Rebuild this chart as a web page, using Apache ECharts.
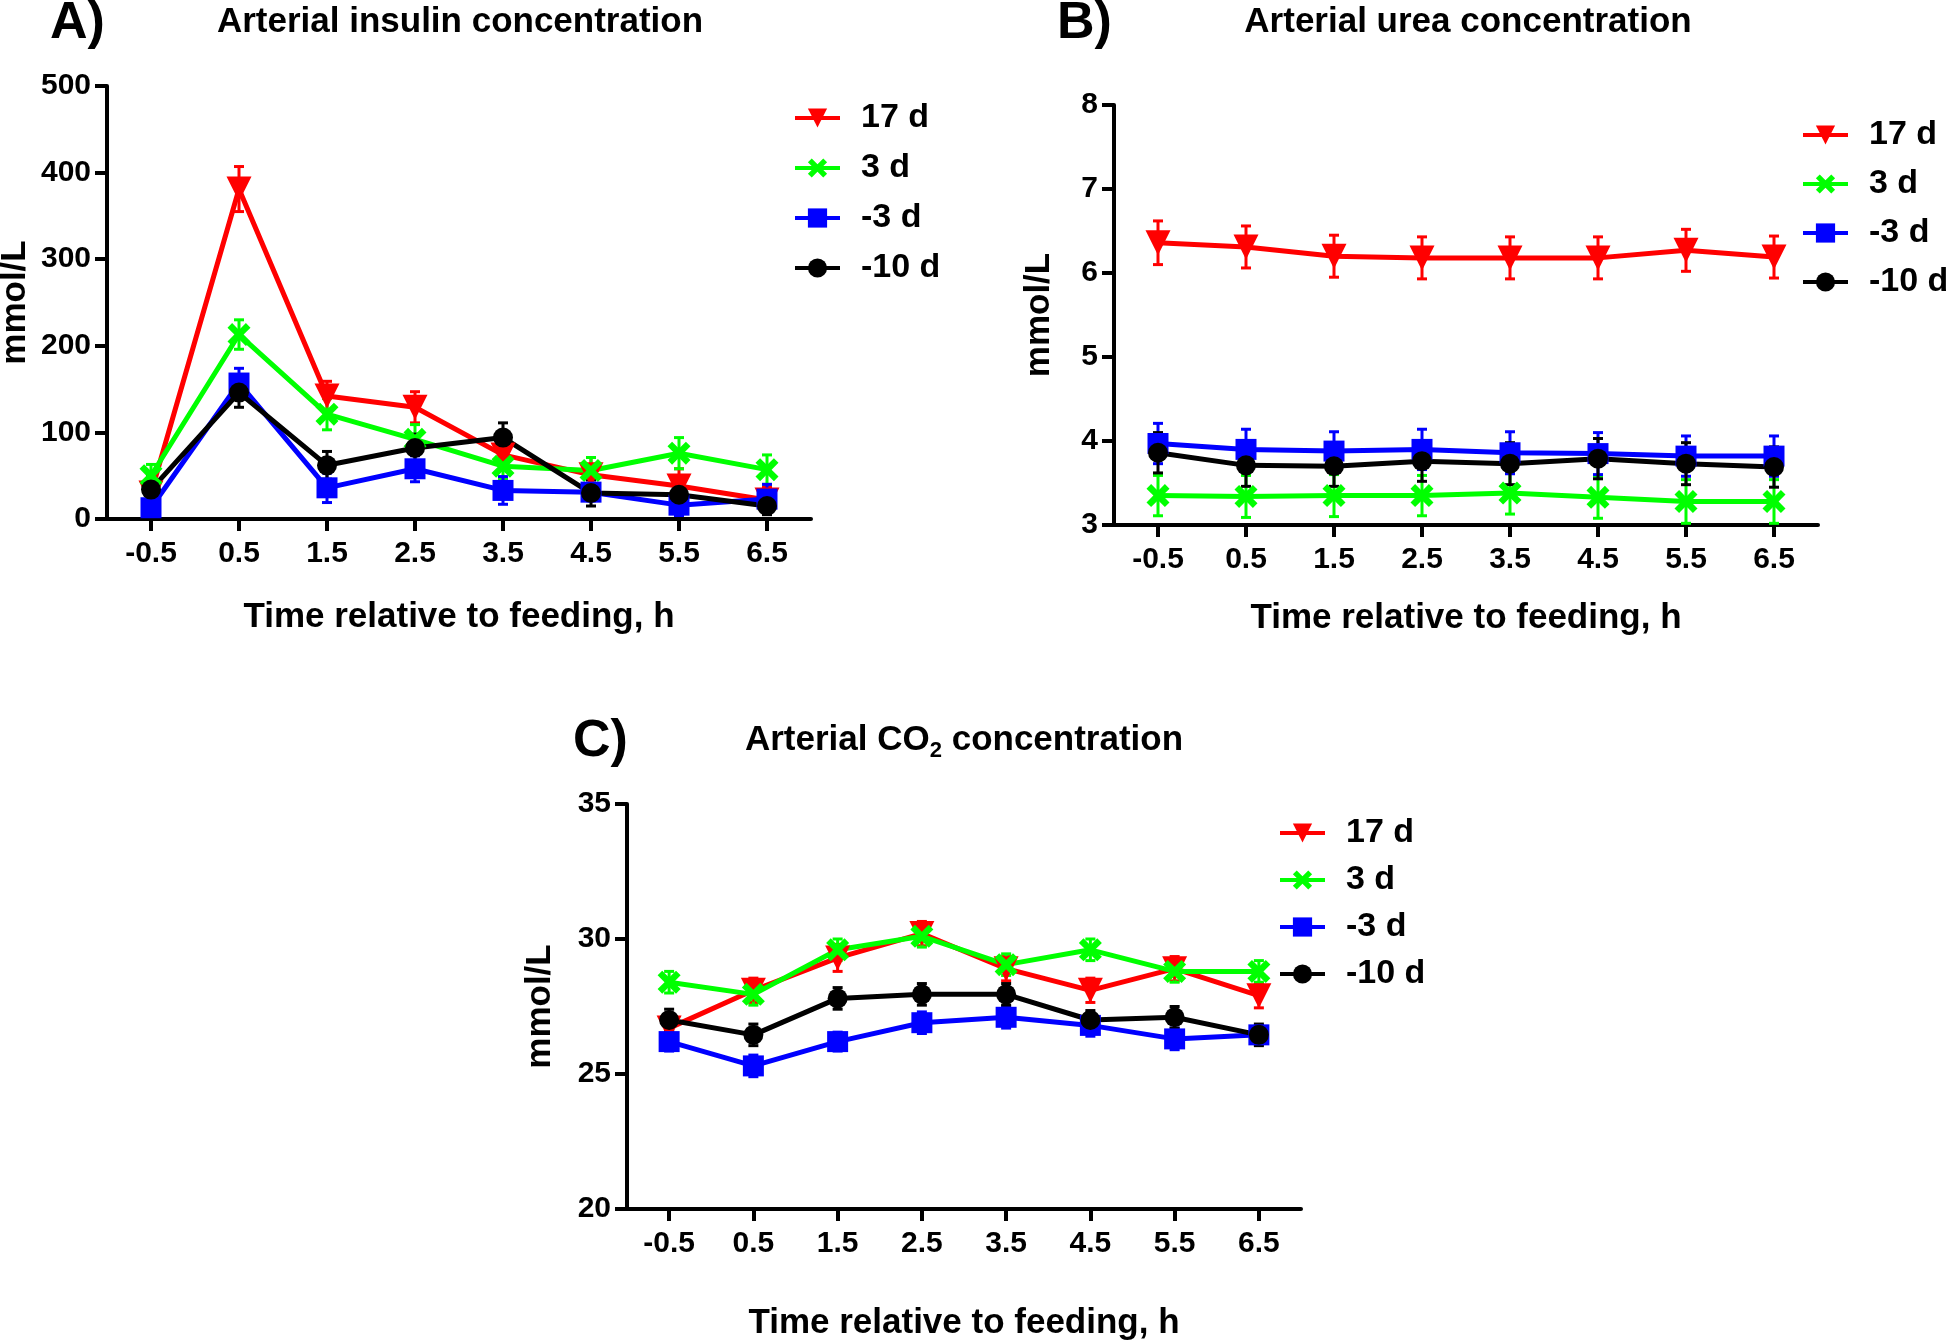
<!DOCTYPE html>
<html>
<head>
<meta charset="utf-8">
<script src="https://cdn.jsdelivr.net/npm/echarts@6/dist/echarts.min.js"></script>
<style>
html, body { margin: 0; padding: 0; background: #fff; }
#main { width: 1946px; height: 1341px; }
</style>
</head>
<body>
<div id="main"></div>
<script>
// time points (h relative to feeding) and groups
var xTicks = [-0.5, 0.5, 1.5, 2.5, 3.5, 4.5, 5.5, 6.5];
var groups = ['17 d', '3 d', '-3 d', '-10 d'];

// rows follow groups: 17 d, 3 d, -3 d, -10 d
var insulinMean = [
    [30, 381, 142, 129, 74, 51, 38, 22],
    [50, 213, 121, 92, 61, 56, 76, 57],
    [13, 157, 36, 58, 33, 31, 16, 23],
    [34, 146, 62, 82, 94, 30, 28, 15]
];
var insulinSem = [
    [10, 26, 17, 18, 16, 20, 20, 15],
    [13, 17, 18, 17, 15, 15, 18, 17],
    [10, 17, 17, 15, 16, 10, 12, 17],
    [15, 17, 16, 16, 17, 15, 16, 10]
];
var ureaMean = [
    [6.36, 6.31, 6.20, 6.18, 6.18, 6.18, 6.27, 6.19],
    [3.35, 3.34, 3.35, 3.35, 3.38, 3.33, 3.28, 3.28],
    [3.97, 3.90, 3.88, 3.90, 3.86, 3.85, 3.82, 3.82],
    [3.86, 3.71, 3.70, 3.76, 3.73, 3.79, 3.73, 3.69]
];
var ureaSem = [
    [0.26, 0.25, 0.25, 0.25, 0.25, 0.25, 0.25, 0.25],
    [0.24, 0.25, 0.25, 0.24, 0.25, 0.25, 0.26, 0.26],
    [0.24, 0.24, 0.23, 0.24, 0.25, 0.25, 0.24, 0.24],
    [0.24, 0.25, 0.24, 0.24, 0.25, 0.24, 0.25, 0.24]
];
var co2Mean = [
    [26.7, 28.1, 29.3, 30.2, 28.9, 28.1, 28.9, 27.9],
    [28.4, 27.95, 29.6, 30.1, 29.05, 29.6, 28.8, 28.8],
    [26.2, 25.3, 26.2, 26.9, 27.1, 26.8, 26.3, 26.45],
    [27.0, 26.45, 27.8, 27.95, 27.95, 27.0, 27.1, 26.45]
];
var co2Sem = [
    [0.4, 0.45, 0.5, 0.45, 0.45, 0.45, 0.45, 0.45],
    [0.4, 0.4, 0.4, 0.4, 0.4, 0.4, 0.4, 0.4],
    [0.35, 0.4, 0.35, 0.4, 0.4, 0.4, 0.4, 0.35],
    [0.4, 0.4, 0.4, 0.4, 0.4, 0.35, 0.4, 0.4]
];

var FONT = '"Liberation Sans", Arial, sans-serif';
var colors = ['#ff0000', '#00ff00', '#0000ff', '#000000'];
var xMark = 'path://M0,4L4,0L10,6L16,0L20,4L14,10L20,16L16,20L10,14L4,20L0,16L6,10Z';
var symbols = ['triangle', xMark, 'rect', 'circle'];
var symbolRot = [180, 0, 0, 0];
var symbolSizes = [25, 23, 21, 20];

var myChart = echarts.init(document.getElementById('main'));

function errorBar(color) {
    return function (params, api) {
        var x = api.value(0), m = api.value(1), e = api.value(2);
        var hi = api.coord([x, m + e]);
        var lo = api.coord([x, m - e]);
        var c = 5;
        var st = { stroke: color, lineWidth: 3 };
        return {
            type: 'group',
            children: [
                { type: 'line', shape: { x1: hi[0], y1: hi[1], x2: lo[0], y2: lo[1] }, style: st },
                { type: 'line', shape: { x1: hi[0] - c, y1: hi[1], x2: hi[0] + c, y2: hi[1] }, style: st },
                { type: 'line', shape: { x1: lo[0] - c, y1: lo[1], x2: lo[0] + c, y2: lo[1] }, style: st }
            ]
        };
    };
}

var series = [];
function addPanel(p, means, sems) {
    groups.forEach(function (g, i) {
        var pts = xTicks.map(function (x, k) { return [x, means[i][k], sems[i][k]]; });
        series.push({
            type: 'custom',
            name: g + ' SEM',
            xAxisIndex: p,
            yAxisIndex: p,
            silent: true,
            encode: { x: 0, y: 1 },
            data: pts,
            renderItem: errorBar(colors[i])
        });
        series.push({
            type: 'line',
            name: g,
            xAxisIndex: p,
            yAxisIndex: p,
            data: pts.map(function (d) { return [d[0], d[1]]; }),
            symbol: symbols[i],
            symbolSize: symbolSizes[i],
            symbolRotate: symbolRot[i],
            color: colors[i],
            itemStyle: { color: colors[i] },
            lineStyle: { width: 5, color: colors[i] }
        });
    });
}
addPanel(0, insulinMean, insulinSem);
addPanel(1, ureaMean, ureaSem);
addPanel(2, co2Mean, co2Sem);

var boldText = { fontWeight: 'bold', color: '#000', fontFamily: FONT };

function xAx(p, gap) {
    return {
        type: 'value', gridIndex: p, min: -1, max: 7,
        name: 'Time relative to feeding, h', nameLocation: 'middle', nameGap: gap,
        nameTextStyle: Object.assign({ fontSize: 35 }, boldText),
        axisLine: { show: true, onZero: false, lineStyle: { color: '#000', width: 4 } },
        axisTick: { show: true, customValues: xTicks, length: 12, lineStyle: { color: '#000', width: 4 } },
        axisLabel: Object.assign({ customValues: xTicks, margin: 20, fontSize: 30 }, boldText),
        splitLine: { show: false }
    };
}
function yAx(p, min, max, step, gap) {
    return {
        type: 'value', gridIndex: p, min: min, max: max, interval: step,
        name: 'mmol/L', nameLocation: 'middle', nameGap: gap,
        nameTextStyle: Object.assign({ fontSize: 35 }, boldText),
        axisLine: { show: true, onZero: false, lineStyle: { color: '#000', width: 4 } },
        axisTick: { show: true, length: 12, lineStyle: { color: '#000', width: 4 } },
        axisLabel: Object.assign({ margin: 16, fontSize: 30 }, boldText),
        splitLine: { show: false }
    };
}
function leg(left, top, gap) {
    return {
        orient: 'vertical', left: left, top: top, itemGap: gap,
        itemWidth: 45, itemHeight: 24, data: groups, selectedMode: false,
        lineStyle: { width: 4 },
        textStyle: Object.assign({ fontSize: 34, padding: [0, 0, 0, 16] }, boldText)
    };
}
function label(x, y, text, size, align) {
    return {
        type: 'text', x: x, y: y, silent: true,
        style: {
            text: text, fill: '#000', align: align, verticalAlign: 'middle',
            font: 'bold ' + size + 'px ' + FONT
        }
    };
}

var option = {
    animation: false,
    backgroundColor: '#fff',
    grid: [
        { left: 107, top: 86, width: 704, height: 433, outerBoundsMode: 'none' },
        { left: 1114, top: 105, width: 704, height: 420, outerBoundsMode: 'none' },
        { left: 627, top: 804, width: 674, height: 405, outerBoundsMode: 'none' }
    ],
    xAxis: [xAx(0, 81), xAx(1, 76), xAx(2, 97)],
    yAxis: [yAx(0, 0, 500, 100, 74), yAx(1, 3, 8, 1, 57), yAx(2, 20, 35, 5, 69)],
    legend: [leg(788, 96, 16), leg(1796, 113, 15), leg(1273, 811, 13)],
    graphic: [
        label(50, 24, 'A)', 52, 'left'),
        label(460, 22, 'Arterial insulin concentration', 35, 'center'),
        label(1057, 24, 'B)', 52, 'left'),
        label(1468, 22, 'Arterial urea concentration', 35, 'center'),
        label(573, 742, 'C)', 52, 'left'),
        {
            type: 'text', x: 964, y: 740, silent: true,
            style: {
                text: 'Arterial CO{sub|2} concentration',
                fill: '#000', align: 'center', verticalAlign: 'middle',
                fontSize: 35, fontWeight: 'bold', fontFamily: FONT, lineHeight: 44,
                rich: {
                    sub: { fontSize: 22, fontWeight: 'bold', fontFamily: FONT, fill: '#000',
                           lineHeight: 22, verticalAlign: 'bottom' }
                }
            }
        }
    ],
    series: series
};

myChart.setOption(option);
</script>
</body>
</html>
